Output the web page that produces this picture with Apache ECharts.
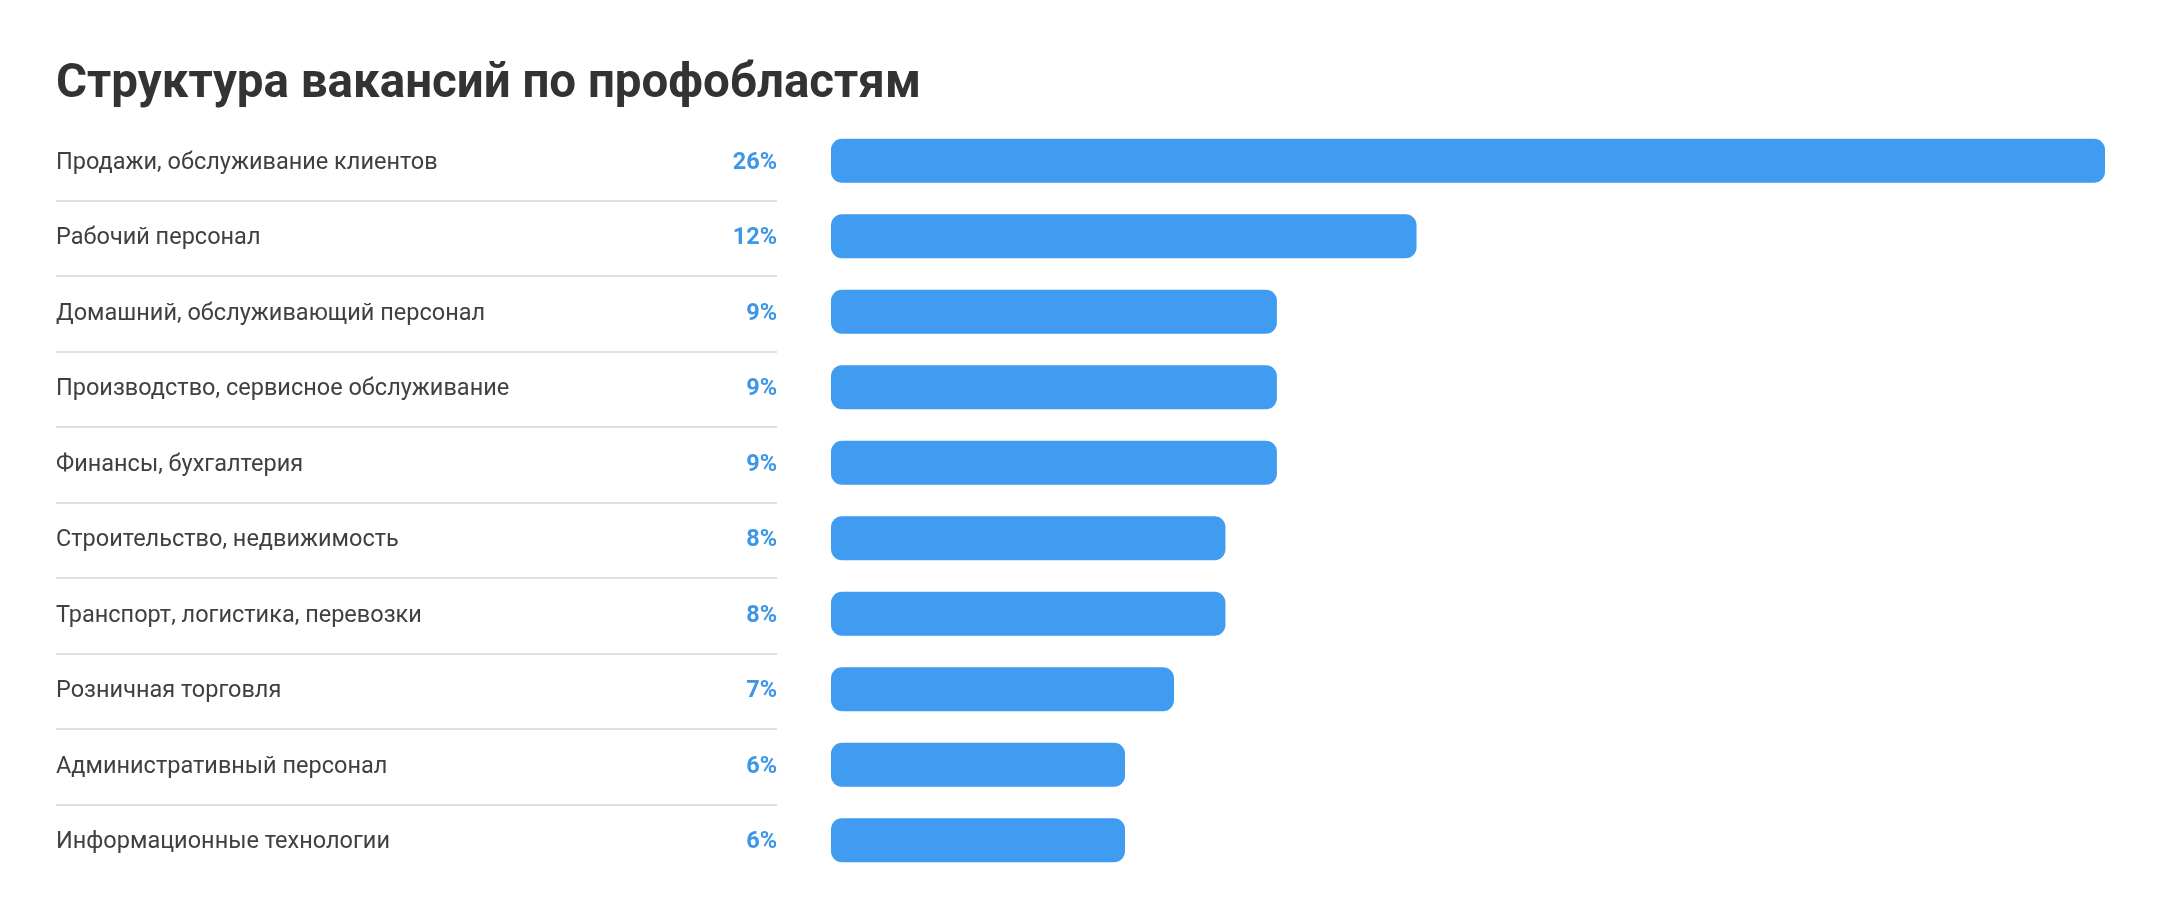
<!DOCTYPE html>
<html><head><meta charset="utf-8">
<script src="https://cdn.jsdelivr.net/npm/echarts@6/dist/echarts.min.js"></script>
<style>html,body{margin:0;padding:0;background:#fff}#c{width:2160px;height:919px}</style>
</head><body><div id="c"></div>
<script>
const titleText = 'Структура вакансий по профобластям';
const categories = ['Продажи, обслуживание клиентов','Рабочий персонал','Домашний, обслуживающий персонал','Производство, сервисное обслуживание','Финансы, бухгалтерия','Строительство, недвижимость','Транспорт, логистика, перевозки','Розничная торговля','Административный персонал','Информационные технологии'];
const shares = [26, 11.95, 9.1, 9.1, 9.1, 8.05, 8.05, 7, 6, 6];
const shareLabels = ['26%', '12%', '9%', '9%', '9%', '8%', '8%', '7%', '6%', '6%'];

const chart = echarts.init(document.getElementById('c'));
chart.setOption({
  backgroundColor: '#fff',
  title: {text: titleText, left: 56, top: 61, padding: 0, textStyle: {fontFamily: 'Roboto', fontWeight: 'bold', fontSize: 47.5, color: '#333333'}},
  grid: [
    {left: 56, width: 721, top: 125, bottom: 39},
    {left: 831, right: 55, top: 123, bottom: 41}
  ],
  xAxis: [
    {gridIndex: 0, type: 'value', show: false, min: 0, max: 1},
    {gridIndex: 1, type: 'value', show: false, min: 0, max: 26}
  ],
  yAxis: [
    {gridIndex: 0, type: 'category', data: categories, inverse: true,
     axisLine: {show: false}, axisTick: {show: false},
     splitLine: {show: true, showMinLine: false, showMaxLine: false, lineStyle: {color: '#e0e0e0', width: 2}},
     axisLabel: {inside: true, margin: 0, formatter: (v, i) => '{n|' + v + '}{p|' + shareLabels[i] + '}',
       rich: {
         n: {width: 621, align: 'left', fontFamily: 'Roboto', fontSize: 23.5, color: '#404040'},
         p: {width: 100, align: 'right', fontFamily: 'Roboto', fontSize: 23.5, fontWeight: 'bold', color: '#3d96e6'}
       }}},
    {gridIndex: 1, type: 'category', data: categories, inverse: true, show: false}
  ],
  series: [{
    type: 'bar', xAxisIndex: 1, yAxisIndex: 1, data: shares, barWidth: 44,
    itemStyle: {color: '#3f9cf1', borderRadius: 11}, silent: true, animation: false
  }],
  animation: false
});
</script></body></html>
